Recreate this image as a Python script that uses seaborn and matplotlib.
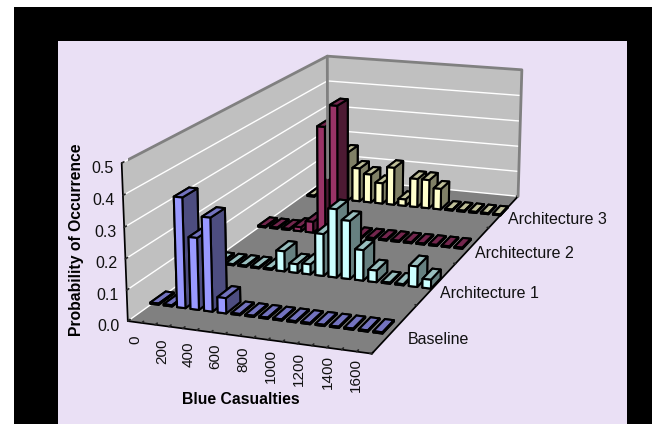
import numpy as np
import matplotlib
matplotlib.use("Agg")
import matplotlib.pyplot as plt
import seaborn as sns
from mpl_toolkits.mplot3d import proj3d

bins = np.arange(0, 1700, 100)
tick_values = np.arange(0, 1800, 200)
prob_ticks = [0.0, 0.1, 0.2, 0.3, 0.4, 0.5]
series_names = ["Baseline", "Architecture 1", "Architecture 2", "Architecture 3"]

baseline = [0, 0, 0.36, 0.235, 0.305, 0.05, 0, 0, 0, 0, 0, 0, 0, 0, 0, 0, 0]
arch1 = [0, 0, 0, 0, 0, 0.07, 0.03, 0.035, 0.145, 0.235, 0.2, 0.105, 0.04, 0, 0, 0.07, 0.03]
arch2 = [0, 0, 0, 0.015, 0.04, 0.395, 0.475, 0, 0, 0, 0, 0, 0, 0, 0, 0, 0]
arch3 = [0, 0, 0, 0.19, 0.13, 0.11, 0.08, 0.145, 0.025, 0.11, 0.11, 0.08, 0, 0, 0, 0, 0]
all_series = [baseline, arch1, arch2, arch3]
series_colors = ["#9999FF", "#CCFFFF", "#993366", "#FFFFCC"]

sns.set_theme(style="white")
plt.rcParams["font.family"] = ["Liberation Sans", "DejaVu Sans"]

fig = plt.figure(figsize=(6.52, 4.24), dpi=100, facecolor="white")
frame = fig.add_axes([14 / 652, 0, 638 / 652, 417 / 424], facecolor="black")
panel = fig.add_axes([58 / 652, 0, 569 / 652, 383 / 424], facecolor="#EAE0F5")
for a in (frame, panel):
    a.set_xticks([])
    a.set_yticks([])
    for s in a.spines.values():
        s.set_visible(False)

ax = fig.add_axes([14.4 / 652, 24.4 / 424, 1, 1], projection="3d", facecolor="none")
ax.computed_zorder = False
ax.set_xlim(0, 17)
ax.set_ylim(0, 4)
ax.set_zlim(0, 0.5)
ax.view_init(elev=15.594, azim=-70.156)
ax.set_proj_type("persp", focal_length=0.701)
ax.set_box_aspect((260.406, 576.562, 165.062), zoom=1.323)

for axis, col in [(ax.xaxis, "#C0C0C0"), (ax.yaxis, "#C0C0C0"), (ax.zaxis, "#808080")]:
    axis.line.set_color("black")
    axis.set_pane_color(col)
    axis.pane.set_edgecolor("none")
    axis._axinfo["grid"]["color"] = "white"
    axis._axinfo["grid"]["linewidth"] = 1.0
    axis._axinfo["tick"]["inward_factor"] = 0
    axis._axinfo["tick"]["outward_factor"] = 0.1
ax.xaxis._axinfo["grid"]["linewidth"] = 0
ax.yaxis._axinfo["grid"]["linewidth"] = 0
ax.zaxis.set_ticks_position("lower")

# grey rim around the two walls
ax.plot([0, 0, 17, 17], [0, 4, 4, 4], [0.5, 0.5, 0.5, 0], color="#808080", lw=2)
ax.plot([0, 0], [4, 4], [0, 0.5], color="#808080", lw=2)

width, depth = 0.62, 0.25
row_shift = [-0.3, 0.1, -0.3, 0.2]
for i in range(3, -1, -1):
    base = np.array(sns.color_palette([series_colors[i]])[0])
    faces = [base, base * 0.75, base, base, base * 0.5, base * 0.5]
    for j in range(len(bins)):
        ax.bar3d(j + 0.19 + row_shift[i], i + 0.375, 0, width, depth, max(all_series[i][j], 0.004),
                 color=faces, edgecolor="black", linewidth=1.5, shade=False)

ax.set_xticks(np.arange(18))
ax.set_xticklabels([])
ax.set_yticks(np.arange(5))
ax.set_yticklabels([])
ax.set_zticks(prob_ticks)
ax.set_zticklabels([])


def put_label(x, y, z, text, dx, dy, size=11, **kw):
    px, py, _ = proj3d.proj_transform(x, y, z, ax.get_proj())
    ax.annotate(text, (px, py), xytext=(dx, dy), textcoords="offset pixels",
                annotation_clip=False, fontsize=size, color="#111111", **kw)


for k, v in enumerate(tick_values):
    put_label(2 * k + 0.5, 0, 0, str(v), 1 - 9 * k / 8, -14 + 9 * k / 8,
              rotation=90, ha="center", va="top")
name_shift = [12, 3, 2, 4]
for i, name in enumerate(series_names):
    put_label(17, i + 0.5, 0, name, name_shift[i], -11 + i, size=11.5, ha="left", va="center")
for v in prob_ticks:
    put_label(0, 0, v, f"{v:.1f}", -8, -5, size=11.5, ha="right", va="center")

fig.text(77 / 652, 1 - 240 / 424, "Probability of Occurrence", rotation=90, ha="center", va="center",
         fontsize=11.3, fontweight="bold", color="black")
fig.text(241 / 652, 1 - 399 / 424, "Blue Casualties", ha="center", va="center",
         fontsize=11.3, fontweight="bold", color="black")

fig.savefig("out.png", dpi=100, facecolor=fig.get_facecolor())
